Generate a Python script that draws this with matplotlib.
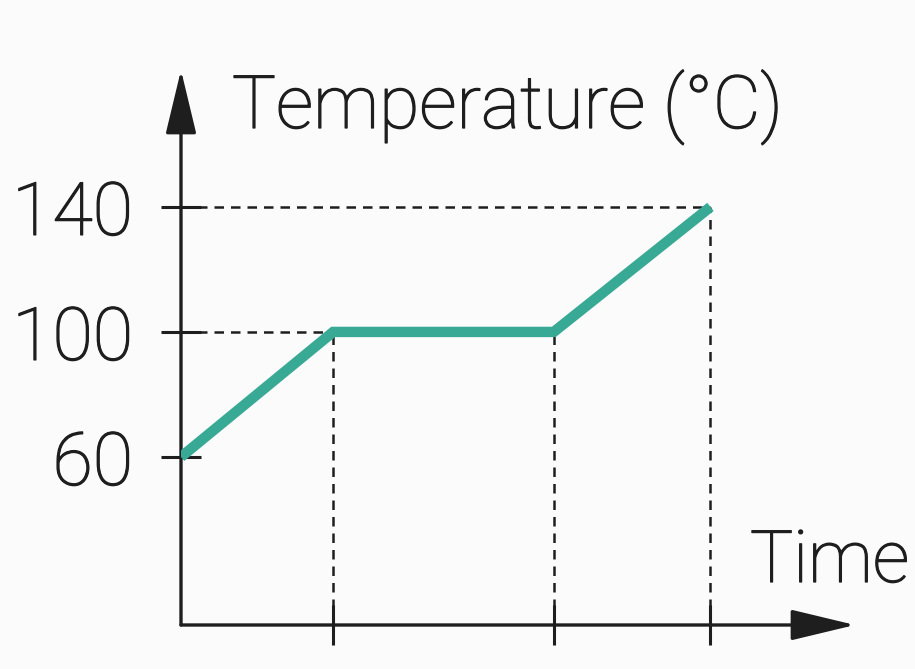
import matplotlib
matplotlib.use("Agg")
import matplotlib.pyplot as plt
import matplotlib.patheffects as pe

# Data
time_points = [0, 1, 2.45, 3.48]
temperatures = [60, 100, 100, 140]
y_ticks = [60, 100, 140]
y_tick_labels = ["60", "100", "140"]
x_label = "Time"
y_label = "Temperature (°C)"

line_color = "#38a995"
ink = "#1e1e1e"
font = ["Roboto", "DejaVu Sans"]
fsize = 53
thick = [pe.withStroke(linewidth=0.9, foreground=ink)]

fig = plt.figure(figsize=(9.15, 6.69), dpi=100, facecolor="#fbfbfb")
ax = fig.add_axes([181/915, 44/669, 674/915, 555/669])
ax.set_facecolor("none")
ax.set_xlim(0, 4.43)
ax.set_ylim(6.24, 183.8)

for s in ax.spines.values():
    s.set_visible(False)

# Axes arrows
arrow_kw = dict(arrowstyle="-|>,head_length=2.0,head_width=0.48", lw=2.4,
                color=ink, mutation_scale=20, shrinkA=0, shrinkB=0)
ax.annotate("", xy=(1, 0), xytext=(0, 0), xycoords="axes fraction",
            textcoords="axes fraction", arrowprops=arrow_kw)
ax.annotate("", xy=(0, 1), xytext=(0, 0), xycoords="axes fraction",
            textcoords="axes fraction", arrowprops=arrow_kw)

# Dashed guide lines
dash = (0, (3.8, 2.8))
dlw = 1.8
ymin = ax.get_ylim()[0]
for t, v in zip(time_points[1:], temperatures[1:]):
    ax.vlines(t, ymin, v, colors=ink, linestyles=dash, lw=dlw)
ax.hlines(temperatures[1], 0, time_points[1], colors=ink, linestyles=dash, lw=dlw)
ax.hlines(temperatures[3], 0, time_points[3], colors=ink, linestyles=dash, lw=dlw)

# Main line
ax.plot(time_points, temperatures, color=line_color, lw=7.5,
        solid_capstyle="butt", solid_joinstyle="miter", zorder=5)

# Ticks
ax.set_yticks(y_ticks)
ax.set_yticklabels(y_tick_labels)
ax.set_xticks(time_points[1:])
ax.set_xticklabels([])
ax.tick_params(axis="y", direction="inout", length=29, width=2.2, color=ink,
               pad=20, labelsize=fsize, labelcolor=ink)
ax.tick_params(axis="x", direction="inout", length=29, width=2.2, color=ink)
for lab in ax.get_yticklabels():
    lab.set_fontfamily(font)
    lab.set_fontweight("light")
    lab.set_path_effects(thick)

fig.text(232/915, 1 - 128/669, y_label, fontsize=fsize, family=font,
         fontweight="light", color=ink, ha="left", va="baseline",
         path_effects=thick)
fig.text(750/915, 1 - 582/669, x_label, fontsize=52, family=font,
         fontweight="light", color=ink, ha="left", va="baseline",
         path_effects=thick)

fig.savefig("out.png", dpi=100, facecolor=fig.get_facecolor())
